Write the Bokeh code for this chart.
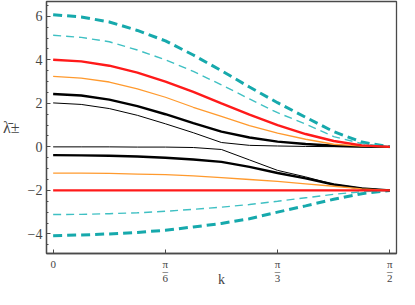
import math
from bokeh.plotting import figure
from bokeh.models import FixedTicker, SingleIntervalTicker
from bokeh.embed import file_html
from bokeh.resources import INLINE

# sample positions of k
k = [0.0, 0.131, 0.262, 0.393, 0.524, 0.654, 0.785, 0.916, 1.047, 1.178, 1.309, 1.440, 1.571]

teal_thick_up = [6.07, 5.97, 5.74, 5.35, 4.87, 4.22, 3.5, 2.75, 2.03, 1.36, 0.7, 0.22, 0.0]
teal_thin_up = [5.13, 5.03, 4.83, 4.45, 4.0, 3.47, 2.85, 2.2, 1.57, 1.05, 0.47, 0.15, 0.0]
red_up = [4.0, 3.93, 3.73, 3.41, 3.0, 2.53, 2.0, 1.48, 1.0, 0.59, 0.27, 0.07, 0.0]
orange_up = [3.24, 3.16, 2.98, 2.66, 2.28, 1.82, 1.4, 0.98, 0.63, 0.35, 0.12, 0.03, 0.0]
black_thick_up = [2.43, 2.36, 2.17, 1.87, 1.5, 1.09, 0.7, 0.43, 0.24, 0.13, 0.05, 0.01, 0.0]
black_thin_up = [2.02, 1.95, 1.76, 1.45, 1.06, 0.65, 0.2, 0.07, 0.04, 0.02, 0.01, 0.0, 0.0]
black_thin_low = [0.0, 0.0, 0.0, -0.01, -0.01, -0.03, -0.12, -0.6, -1.08, -1.38, -1.72, -1.9, -2.0]
black_thick_low = [-0.38, -0.39, -0.41, -0.44, -0.5, -0.58, -0.69, -0.92, -1.2, -1.45, -1.73, -1.91, -2.0]
orange_low = [-1.21, -1.21, -1.22, -1.25, -1.28, -1.33, -1.41, -1.5, -1.59, -1.7, -1.81, -1.93, -2.0]
red_low = [-2.0] * 13
teal_thin_low = [-3.11, -3.1, -3.07, -3.03, -2.96, -2.87, -2.77, -2.65, -2.5, -2.34, -2.18, -2.06, -2.0]
teal_thick_low = [-4.08, -4.05, -4.0, -3.93, -3.83, -3.68, -3.52, -3.3, -3.0, -2.71, -2.41, -2.15, -2.0]

x_tick_values = [0.0, math.pi / 6, math.pi / 3, math.pi / 2]
x_tick_labels = ["0", "π\n\u2013\n6", "π\n\u2013\n3", "π\n\u2013\n2"]
y_tick_values = [-4, -2, 0, 2, 4, 6]
y_tick_labels = ["\u22124", "\u22122", "0", "2", "4", "6"]
x_title = "k"
y_title = "λ\u0304\u00b1"

TEAL = "#16A9AC"
TEAL_L = "#3FC0C3"
RED = "#FF1A1A"
ORANGE = "#FF9A2E"
FRAME = "#4a4a4a"
SERIF = "'Liberation Serif'"

x0, x1 = -0.031, 1.602
p = figure(width=399, height=289, x_range=(x0, x1), y_range=(-4.9, 6.68),
           output_backend="svg", toolbar_location=None,
           min_border_left=38, min_border_right=3, min_border_top=1, min_border_bottom=10)
p.xgrid.visible = False
p.ygrid.visible = False
p.outline_line_color = FRAME
p.outline_line_width = 1.3
p.background_fill_color = "white"
p.border_fill_color = "white"

# series
p.line(k, teal_thick_up, line_color=TEAL, line_width=3, line_dash="9 5")
p.line(k, teal_thick_low, line_color=TEAL, line_width=3, line_dash="9 5")
p.line(k, teal_thin_up, line_color=TEAL_L, line_width=1.4, line_dash="8 5")
p.line(k, teal_thin_low, line_color=TEAL_L, line_width=1.4, line_dash="8 5")
p.line(k, black_thin_up, line_color="black", line_width=1)
p.line(k, black_thin_low, line_color="black", line_width=1)
p.line(k, black_thick_up, line_color="black", line_width=2.4)
p.line(k, black_thick_low, line_color="black", line_width=2.4)
p.line(k, orange_up, line_color=ORANGE, line_width=1.3)
p.line(k, orange_low, line_color=ORANGE, line_width=1.3)
p.line(k, red_up, line_color=RED, line_width=2.4)
p.line(k, red_low, line_color=RED, line_width=2.4)

# x axis
p.xaxis.ticker = FixedTicker(ticks=x_tick_values, minor_ticks=[])
p.xaxis.major_label_overrides = {v: s for v, s in zip(x_tick_values, x_tick_labels)}
p.xaxis.axis_label = x_title
p.xaxis.axis_label_text_font = SERIF
p.xaxis.axis_label_text_font_style = "normal"
p.xaxis.axis_label_text_font_size = "14px"
p.xaxis.axis_label_standoff = -15
p.xaxis.major_label_text_font = SERIF
p.xaxis.major_label_text_font_size = "11px"
p.xaxis.major_label_text_font_style = "normal"
p.xaxis.major_label_text_line_height = 0.6
p.xaxis.major_label_standoff = 4
p.xaxis.major_tick_in = 4
p.xaxis.major_tick_out = 0
p.xaxis.axis_line_color = FRAME
p.xaxis.axis_line_width = 1.3
p.xaxis.major_tick_line_color = FRAME

# y axis
p.yaxis.ticker = SingleIntervalTicker(interval=2, num_minor_ticks=4)
p.yaxis.major_label_overrides = {v: s for v, s in zip(y_tick_values, y_tick_labels)}
p.yaxis.axis_label = y_title
p.yaxis.axis_label_orientation = "horizontal"
p.yaxis.axis_label_text_font = SERIF
p.yaxis.axis_label_text_font_style = "normal"
p.yaxis.axis_label_text_font_size = "16px"
p.yaxis.axis_label_standoff = 5
p.yaxis.major_label_text_font = SERIF
p.yaxis.major_label_text_font_size = "14px"
p.yaxis.major_label_standoff = 4
p.yaxis.major_tick_in = 4
p.yaxis.major_tick_out = 0
p.yaxis.minor_tick_in = 2
p.yaxis.minor_tick_out = 0
p.yaxis.axis_line_color = FRAME
p.yaxis.axis_line_width = 1.3
p.yaxis.major_tick_line_color = FRAME
p.yaxis.minor_tick_line_color = FRAME

open("out.html", "w").write(file_html(p, INLINE))
